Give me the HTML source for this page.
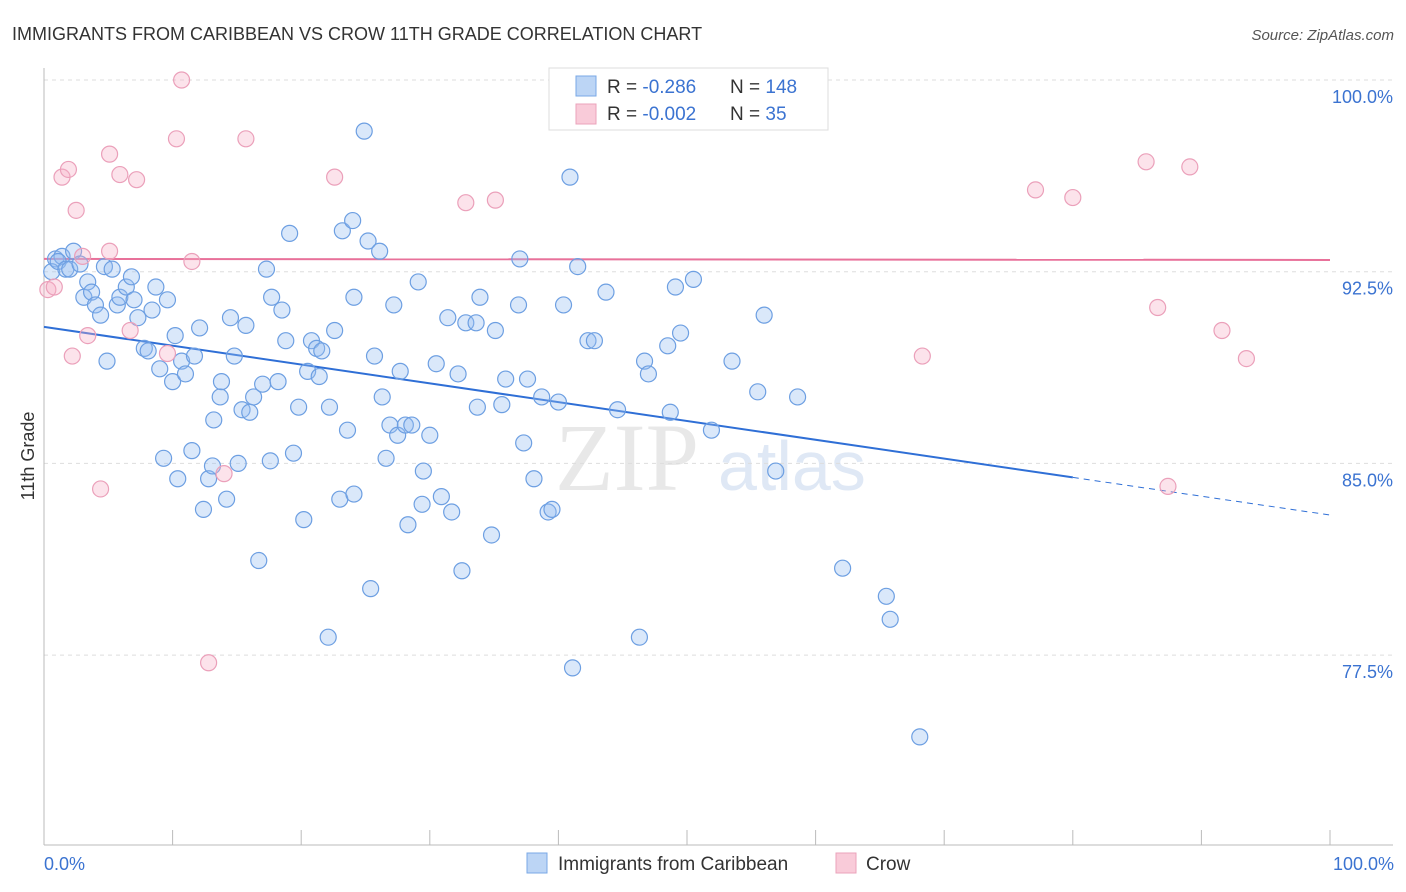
<!DOCTYPE html>
<html><head><meta charset="utf-8"><style>
body{margin:0;background:#fff;font-family:"Liberation Sans",sans-serif;}
svg{display:block}
</style></head><body>
<svg id="chart" width="1406" height="892">
<text x="12" y="40" font-size="18" fill="#333">IMMIGRANTS FROM CARIBBEAN VS CROW 11TH GRADE CORRELATION CHART</text>
<text x="1394" y="40" font-size="15" fill="#555" font-style="italic" text-anchor="end">Source: ZipAtlas.com</text>
<text x="34" y="456" font-size="18" fill="#333" text-anchor="middle" transform="rotate(-90 34 456)">11th Grade</text>
<g><text x="555" y="490" font-size="96" fill="#e8e8e8" font-family="Liberation Serif,serif">ZIP</text><text x="718" y="490" font-size="70" fill="#dfe8f5">atlas</text></g>
<g id="grid"></g><g id="axes"></g><g id="trend"></g><g id="pts"></g>
<g>
<rect x="549" y="68" width="279" height="62" fill="#fff" stroke="#ddd"/>
<rect x="576" y="76" width="20" height="20" fill="#bcd5f5" stroke="#7aa8e6"/>
<rect x="576" y="104" width="20" height="20" fill="#f9cbd9" stroke="#eba3bb"/>
<text x="607" y="93" font-size="19" fill="#333">R = <tspan fill="#3b73d1">-0.286</tspan></text>
<text x="730" y="93" font-size="19" fill="#333">N = <tspan fill="#3b73d1">148</tspan></text>
<text x="607" y="120" font-size="19" fill="#333">R = <tspan fill="#3b73d1">-0.002</tspan></text>
<text x="730" y="120" font-size="19" fill="#333">N = <tspan fill="#3b73d1"> 35</tspan></text>
</g>
<g>
<rect x="527" y="853" width="20" height="20" fill="#bcd5f5" stroke="#7aa8e6"/>
<text x="558" y="870" font-size="19" fill="#333">Immigrants from Caribbean</text>
<rect x="836" y="853" width="20" height="20" fill="#f9cbd9" stroke="#eba3bb"/>
<text x="866" y="870" font-size="19" fill="#333">Crow</text>
</g>
<text x="44" y="870" font-size="18" fill="#3b73d1">0.0%</text>
<text x="1394" y="870" font-size="18" fill="#3b73d1" text-anchor="end">100.0%</text>
</svg>
<script>
const yTicks=[100,92.5,85,77.5];
const yTickLabels=["100.0%","92.5%","85.0%","77.5%"];
const blueX=[0.9,1.4,0.6,1.1,1.7,2.3,2.0,2.8,3.1,3.4,3.7,4.0,4.4,4.9,4.7,5.3,5.7,5.9,6.4,6.8,7.0,7.3,7.8,8.1,8.4,8.7,9.0,9.3,9.6,10.0,10.2,10.4,10.7,11.0,11.5,11.7,12.1,12.4,12.8,13.1,13.2,13.7,13.8,14.2,14.5,14.8,15.1,15.4,15.7,16.0,16.3,16.7,17.0,17.3,17.6,17.7,18.2,18.5,18.8,19.1,19.4,19.8,20.2,20.5,20.8,21.2,21.4,21.6,22.1,22.2,22.6,23.0,23.2,23.6,24.0,24.1,24.1,24.9,25.2,25.4,25.7,26.1,26.3,26.6,26.9,27.2,27.5,27.7,28.1,28.3,28.6,29.1,29.4,29.5,30.0,30.5,30.9,31.4,31.7,32.2,32.5,32.8,33.6,33.7,33.9,34.8,35.1,35.6,35.9,36.9,37.0,37.3,37.6,38.1,38.7,39.2,39.5,40.0,40.4,40.9,41.1,41.5,42.3,42.8,43.7,44.6,46.3,46.7,47.0,48.5,48.7,49.1,49.5,50.5,51.9,52.4,53.5,55.5,56.0,56.9,58.6,62.1,65.5,65.8,68.1];
const blueY=[93.0,93.1,92.5,92.9,92.6,93.3,92.6,92.8,91.5,92.1,91.7,91.2,90.8,89.0,92.7,92.6,91.2,91.5,91.9,92.3,91.4,90.7,89.5,89.4,91.0,91.9,88.7,85.2,91.4,88.2,90.0,84.4,89.0,88.5,85.5,89.2,90.3,83.2,84.4,84.9,86.7,87.6,88.2,83.6,90.7,89.2,85.0,87.1,90.4,87.0,87.6,81.2,88.1,92.6,85.1,91.5,88.2,91.0,89.8,94.0,85.4,87.2,82.8,88.6,89.8,89.5,88.4,89.4,78.2,87.2,90.2,83.6,94.1,86.3,94.5,83.8,91.5,98.0,93.7,80.1,89.2,93.3,87.6,85.2,86.5,91.2,86.1,88.6,86.5,82.6,86.5,92.1,83.4,84.7,86.1,88.9,83.7,90.7,83.1,88.5,80.8,90.5,90.5,87.2,91.5,82.2,90.2,87.3,88.3,91.2,93.0,85.8,88.3,84.4,87.6,83.1,83.2,87.4,91.2,96.2,77.0,92.7,89.8,89.8,91.7,87.1,78.2,89.0,88.5,89.6,87.0,91.9,90.1,92.2,86.3,100,89.0,87.8,90.8,84.7,87.6,80.9,79.8,78.9,74.3];
const pinkX=[0.3,0.8,1.4,1.9,2.2,2.5,3.0,3.4,4.4,5.1,5.1,5.9,6.7,7.2,9.6,10.3,10.7,11.5,12.8,14.0,15.7,22.6,32.8,35.1,40.1,56.7,68.3,77.1,80.0,85.7,86.6,87.4,89.1,91.6,93.5];
const pinkY=[91.8,91.9,96.2,96.5,89.2,94.9,93.1,90.0,84.0,97.1,93.3,96.3,90.2,96.1,89.3,97.7,100,92.9,77.2,84.6,97.7,96.2,95.2,95.3,100,100,89.2,95.7,95.4,96.8,91.1,84.1,96.6,90.2,89.1];
const blueTrend=[90.34,82.98];
const pinkTrend=[93.0,92.96];
const NS='http://www.w3.org/2000/svg';
const X=v=>44+v*12.86;
const Y=v=>80+(100-v)*25.56;
function mk(tag,attrs,parent){const e=document.createElementNS(NS,tag);for(const k in attrs)e.setAttribute(k,attrs[k]);parent.appendChild(e);return e;}
const grid=document.getElementById('grid'),axes=document.getElementById('axes'),trend=document.getElementById('trend'),pts=document.getElementById('pts');
yTicks.forEach((t,i)=>{
 const l=mk('line',{x1:44,x2:1393,y1:Y(t),y2:Y(t),stroke:'#ddd','stroke-dasharray':'4 4'},grid);
 
 
 const tx=mk('text',{x:1393,y:Y(t)+23,'font-size':18,fill:'#3b73d1','text-anchor':'end'},grid);
 tx.textContent=yTickLabels[i];
 
 
});
const ax=mk('line',{x1:44,x2:1393,y1:845,y2:845,stroke:'#bbb'},axes);


const ay=mk('line',{x1:44,x2:44,y1:68,y2:845,stroke:'#bbb'},axes);


for(let i=0;i<=10;i++){
 const t=mk('line',{x1:X(i*10),x2:X(i*10),y1:830,y2:845,stroke:'#bbb'},axes);
 
 
}
const bt=mk('line',{x1:X(0),y1:Y(blueTrend[0]),x2:X(80),y2:Y(blueTrend[0]+(blueTrend[1]-blueTrend[0])*0.8),stroke:'#2f6fd6','stroke-width':2},trend);


const bd=mk('line',{x1:X(80),y1:Y(blueTrend[0]+(blueTrend[1]-blueTrend[0])*0.8),x2:X(100),y2:Y(blueTrend[1]),stroke:'#2f6fd6','stroke-width':1,'stroke-dasharray':'6 5'},trend);


const pt=mk('line',{x1:X(0),y1:Y(pinkTrend[0]),x2:X(100),y2:Y(pinkTrend[1]),stroke:'#e8719a','stroke-width':2},trend);


blueX.forEach((x,i)=>{
 const c=mk('circle',{cx:X(x),cy:Y(blueY[i]),r:8,fill:'rgba(150,190,240,0.35)',stroke:'#6d9fe2','stroke-width':1.2},pts);
 
 
});
pinkX.forEach((x,i)=>{
 const c=mk('circle',{cx:X(x),cy:Y(pinkY[i]),r:8,fill:'rgba(245,175,198,0.35)',stroke:'#eba0ba','stroke-width':1.2},pts);
 
 
});
</script>
</body></html>
